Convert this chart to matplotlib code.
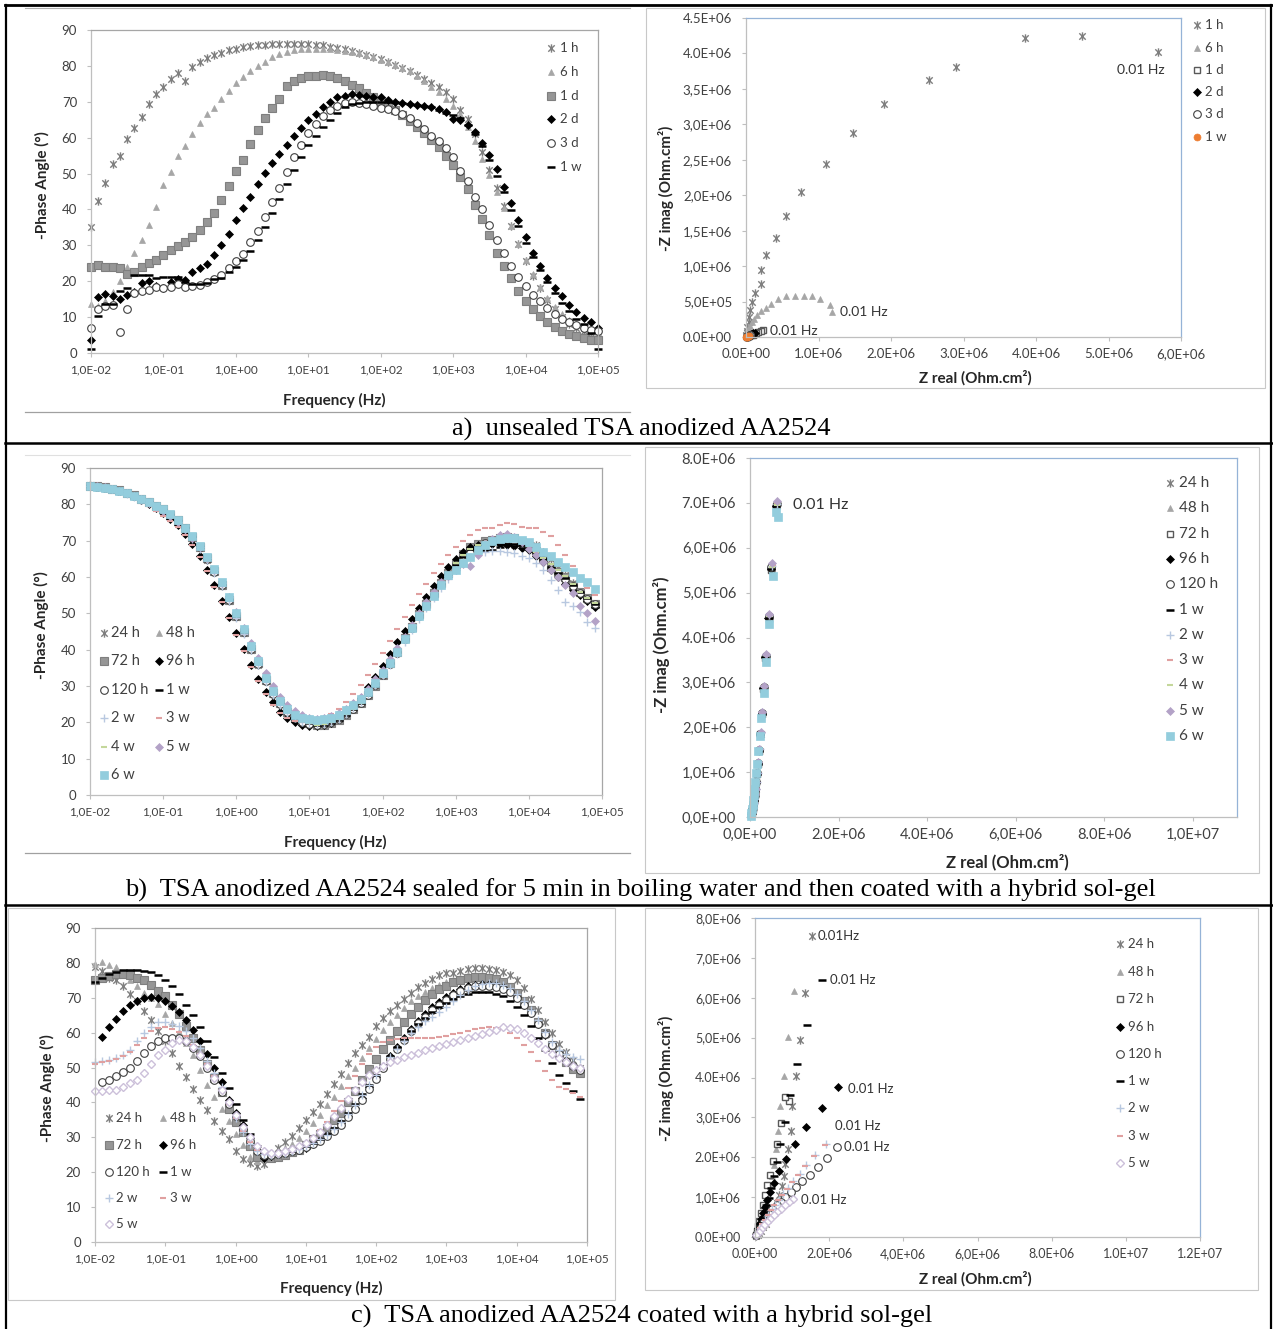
import numpy as np
import matplotlib
matplotlib.use("Agg")
import matplotlib.pyplot as plt
from matplotlib.lines import Line2D
from matplotlib.patches import Rectangle
from matplotlib.path import Path

plt.rcParams["font.family"] = ["Lato", "DejaVu Sans"]

W, H = 1273, 1329

# -------------------------------------------------
# DATA
# -------------------------------------------------
# measurement grid, 10 points per decade from 0.01 Hz
FREQ = np.logspace(-2, 5, 71)

BODE_XTICKS = [1e-2, 1e-1, 1e0, 1e1, 1e2, 1e3, 1e4, 1e5]
BODE_XLABELS = ["1,0E-02", "1,0E-01", "1,0E+00", "1,0E+01",
                "1,0E+02", "1,0E+03", "1,0E+04", "1,0E+05"]

# --- a) unsealed, phase angle (deg)
A_1H = [35.0, 42.3, 47.5, 52.7, 55.0, 59.7, 62.8, 65.7, 69.5, 72.1,
        74.1, 76.3, 77.9, 75.9, 79.7, 81.1, 82.1, 82.9, 83.7, 84.3,
        84.8, 85.2, 85.5, 85.7, 85.9, 86.0, 86.1, 86.1, 86.1, 86.1,
        86.0, 85.9, 85.7, 85.4, 85.0, 84.6, 84.2, 83.7, 83.1, 82.5,
        81.8, 81.1, 80.3, 79.4, 78.5, 77.5, 76.4, 75.3, 74.0, 72.6,
        70.8, 67.8, 65.2, 61.0, 56.0, 51.0, 46.0, 41.0, 35.5, 30.3,
        25.5, 21.5, 18.0, 14.8, 12.2, 10.0, 8.2, 7.0, 6.2, 5.6,
        5.0]
A_6H = [13.7, 13.0, 14.5, 17.0, 20.0, 24.0, 27.8, 31.5, 35.7, 40.8,
        46.8, 50.4, 55.0, 57.8, 61.0, 64.1, 66.7, 68.4, 70.8, 73.1,
        75.1, 76.9, 78.5, 80.0, 81.2, 82.4, 83.2, 83.9, 84.3, 84.6,
        84.8, 84.8, 84.8, 84.7, 84.5, 84.2, 83.9, 83.5, 83.0, 82.4,
        81.7, 81.0, 80.3, 79.4, 78.6, 77.2, 75.8, 74.2, 72.6, 70.8,
        68.7, 66.5, 63.0, 59.0, 54.0, 49.5, 45.0, 40.5, 35.4, 30.5,
        26.0, 22.0, 18.5, 15.3, 12.8, 10.8, 9.2, 8.0, 7.0, 6.4,
        5.8]
A_1D = [24.1, 24.4, 23.9, 23.9, 23.6, 22.1, 22.5, 24.1, 25.2, 26.0,
        27.4, 28.8, 29.7, 30.8, 32.3, 34.3, 36.4, 39.1, 42.7, 46.4,
        50.8, 53.8, 58.3, 62.2, 65.4, 68.2, 70.7, 74.4, 75.8, 76.6,
        77.2, 77.3, 77.4, 77.2, 76.6, 75.8, 74.8, 73.7, 72.5, 71.3,
        70.2, 69.0, 67.6, 66.2, 64.6, 63.0, 61.2, 59.4, 57.3, 55.0,
        52.5, 49.0, 45.6, 41.3, 37.4, 33.0, 28.0, 24.3, 20.8, 17.2,
        14.5, 12.2, 10.3, 8.6, 7.2, 6.1, 5.2, 4.6, 4.1, 3.7,
        3.6]
A_2D = [3.7, 15.5, 16.5, 15.8, 15.1, 16.2, 17.1, 19.4, 20.0, 18.7,
        18.0, 19.9, 20.6, 20.3, 22.7, 23.6, 24.8, 27.3, 30.1, 33.1,
        37.0, 40.3, 43.6, 47.1, 50.1, 52.9, 55.5, 57.9, 60.6, 62.8,
        64.9, 66.6, 68.6, 70.0, 71.2, 71.6, 72.2, 71.9, 71.7, 71.4,
        71.2, 70.6, 70.0, 69.7, 69.5, 69.2, 68.9, 68.6, 68.0, 67.1,
        65.3, 65.0, 63.4, 61.5, 58.4, 55.3, 51.3, 46.2, 41.8, 37.1,
        32.3, 28.0, 24.3, 21.0, 18.1, 15.8, 13.4, 11.3, 9.8, 8.5,
        7.0]
A_3D = [7.0, 12.2, 13.0, 13.5, 5.8, 12.2, 16.8, 17.3, 17.6, 18.4,
        18.0, 18.4, 19.3, 18.3, 18.8, 19.0, 19.9, 20.6, 21.8, 23.6,
        25.5, 27.6, 30.9, 34.0, 37.8, 42.0, 46.1, 50.3, 54.5, 58.0,
        61.3, 63.8, 65.9, 67.7, 68.8, 69.6, 69.8, 69.6, 69.3, 68.8,
        68.4, 68.0, 67.4, 66.5, 65.4, 64.0, 62.4, 60.6, 59.0, 57.0,
        54.5, 50.8, 47.8, 43.6, 40.1, 35.7, 31.5, 27.8, 24.3, 21.3,
        18.6, 16.2, 14.4, 12.5, 10.9, 9.6, 8.5, 7.7, 7.0, 6.5,
        6.0]
A_1W = [1.2, 10.2, 13.6, 13.6, 17.2, 18.0, 21.7, 21.7, 21.7, 20.9,
        21.2, 21.1, 21.3, 19.7, 19.2, 19.2, 19.5, 20.6, 21.0, 22.5,
        24.0, 25.8, 28.5, 31.5, 35.0, 39.0, 43.0, 47.0, 51.0, 54.5,
        58.0, 60.5, 63.0, 65.0, 67.0, 68.5, 69.3, 69.7, 69.9, 70.0,
        70.0, 70.0, 69.9, 69.7, 69.5, 69.2, 68.9, 68.5, 67.8, 67.0,
        66.3, 65.6, 63.5, 61.0, 57.8, 53.8, 49.4, 44.8, 39.9, 35.3,
        30.6, 26.7, 23.0, 19.7, 16.7, 13.9, 11.6, 9.5, 8.0, 5.6,
        1.2]

# --- a) unsealed, Nyquist (values in 1e6 Ohm.cm2)
NA_1H_X = [5.68, 4.64, 3.85, 2.89, 2.52, 1.90, 1.48, 1.10, 0.76, 0.55,
           0.41, 0.28, 0.20, 0.20, 0.12, 0.08, 0.055, 0.045, 0.035, 0.02,
           0.015, 0.01, 0.005, 0.002]
NA_1H_Y = [4.02, 4.25, 4.22, 3.81, 3.63, 3.28, 2.88, 2.44, 2.04, 1.70,
           1.40, 1.15, 0.94, 0.75, 0.62, 0.50, 0.38, 0.28, 0.21, 0.14,
           0.09, 0.055, 0.03, 0.015]
NA_6H_X = [1.18, 1.16, 1.02, 0.91, 0.80, 0.67, 0.545, 0.445, 0.35, 0.27,
           0.21, 0.155, 0.117, 0.083, 0.056, 0.033, 0.017, 0.006, 0.002]
NA_6H_Y = [0.35, 0.45, 0.53, 0.575, 0.58, 0.58, 0.58, 0.53, 0.47, 0.415,
           0.36, 0.305, 0.26, 0.21, 0.155, 0.11, 0.07, 0.035, 0.015]
NA_1D_X = [0.23, 0.20, 0.17, 0.14, 0.11, 0.09, 0.065, 0.045, 0.028, 0.015]
NA_1D_Y = [0.095, 0.085, 0.07, 0.055, 0.045, 0.035, 0.028, 0.018, 0.01, 0.005]
NA_2D_X = [0.12, 0.10, 0.085, 0.07, 0.055, 0.04, 0.03, 0.02, 0.01]
NA_2D_Y = [0.06, 0.05, 0.045, 0.038, 0.03, 0.022, 0.015, 0.01, 0.005]
NA_3D_X = [0.06, 0.05, 0.04, 0.03, 0.02, 0.01]
NA_3D_Y = [0.03, 0.025, 0.02, 0.015, 0.01, 0.005]
NA_1W_X = [0.04, 0.03, 0.02, 0.012, 0.006]
NA_1W_Y = [0.012, 0.008, 0.005, 0.003, 0.001]

# --- b) sealed + sol-gel, phase angle (deg)
B_24H = [85.2, 85.0, 84.7, 84.3, 83.8, 83.2, 82.4, 81.5, 80.6, 79.5,
         78.4, 77.0, 75.4, 73.3, 70.8, 68.0, 64.8, 61.3, 57.6, 53.5,
         49.0, 44.6, 40.0, 35.9, 31.4, 27.8, 25.0, 22.8, 21.2, 20.2,
         19.6, 19.3, 19.4, 19.9, 20.7, 22.1, 23.8, 25.4, 27.8, 30.4,
         33.3, 36.5, 39.7, 43.4, 46.6, 50.0, 53.0, 55.8, 58.6, 61.2,
         63.9, 66.3, 68.1, 69.0, 69.6, 70.1, 70.4, 70.5, 70.2, 69.5,
         69.0, 68.9, 67.0, 65.0, 62.5, 60.5, 58.3, 56.0, 54.2, 52.5]
B_48H = [85.0, 84.9, 84.6, 84.2, 83.8, 83.1, 82.4, 81.5, 80.6, 79.5,
         78.5, 77.1, 75.5, 73.4, 70.9, 68.2, 65.0, 61.5, 57.8, 53.7,
         49.2, 44.8, 40.2, 36.1, 31.5, 27.9, 25.1, 22.9, 21.3, 20.3,
         19.7, 19.4, 19.4, 19.9, 20.6, 22.0, 23.6, 25.2, 27.5, 30.1,
         33.0, 36.2, 39.4, 43.1, 46.3, 49.7, 52.7, 55.5, 58.4, 61.0,
         63.5, 65.8, 67.5, 68.5, 69.2, 69.6, 69.6, 69.3, 68.9, 68.5,
         68.0, 66.6, 64.8, 62.7, 61.0, 59.5, 57.5, 55.5, 53.7, 52.2]
B_72H = [85.1, 85.0, 84.7, 84.3, 83.9, 83.2, 82.5, 81.6, 80.7, 79.6,
         78.6, 77.2, 75.6, 73.5, 71.0, 68.3, 65.1, 61.6, 57.9, 53.8,
         49.3, 44.9, 40.3, 36.2, 31.6, 28.0, 25.2, 22.9, 21.3, 20.3,
         19.7, 19.4, 19.4, 19.9, 20.6, 22.0, 23.6, 25.2, 27.5, 30.1,
         33.0, 36.2, 39.4, 43.1, 46.3, 49.7, 52.7, 55.5, 58.4, 61.0,
         63.7, 66.2, 68.3, 69.2, 69.8, 70.3, 70.8, 71.0, 70.6, 69.7,
         68.6, 67.1, 65.1, 62.8, 61.4, 60.0, 57.7, 55.9, 54.1, 52.7]
B_96H = [85.0, 84.9, 84.6, 84.2, 83.7, 83.0, 82.2, 81.2, 80.1, 78.9,
         77.6, 76.0, 74.2, 71.8, 69.0, 65.8, 62.0, 57.8, 53.5, 49.1,
         44.6, 40.1, 35.8, 31.9, 28.4, 25.6, 22.9, 21.2, 20.0, 19.4,
         19.1, 19.0, 19.2, 19.8, 20.8, 22.5, 24.6, 26.8, 29.6, 32.5,
         35.5, 38.8, 42.2, 45.2, 48.5, 51.6, 54.6, 57.4, 60.3, 62.7,
         65.0, 66.8, 68.2, 68.7, 68.9, 69.0, 69.0, 68.8, 68.6, 68.0,
         67.3, 65.8, 64.0, 62.0, 60.0, 58.2, 56.5, 55.0, 53.5, 51.8]
B_120H = [85.1, 84.9, 84.6, 84.2, 83.8, 83.1, 82.4, 81.5, 80.6, 79.5,
          78.5, 77.1, 75.5, 73.4, 70.9, 68.2, 65.0, 61.5, 57.8, 53.7,
          49.2, 44.8, 40.2, 36.1, 31.5, 27.9, 25.1, 22.8, 21.2, 20.2,
          19.6, 19.4, 19.5, 20.0, 20.8, 22.2, 23.8, 25.4, 27.6, 30.2,
          33.0, 36.0, 39.2, 42.8, 46.0, 49.4, 52.3, 55.1, 58.0, 60.6,
          63.2, 65.3, 66.5, 68.0, 69.3, 70.0, 70.5, 70.5, 70.0, 69.3,
          68.3, 66.8, 64.8, 62.5, 61.0, 59.5, 57.5, 55.7, 54.0, 52.5]
B_1W = [85.1, 84.9, 84.6, 84.2, 83.8, 83.1, 82.4, 81.5, 80.6, 79.5,
        78.5, 77.1, 75.5, 73.4, 70.9, 68.2, 65.0, 61.5, 57.8, 53.7,
        49.2, 44.8, 40.2, 36.1, 31.5, 27.9, 25.1, 22.9, 21.3, 20.3,
        19.7, 19.4, 19.4, 19.9, 20.6, 22.0, 23.6, 25.2, 27.5, 30.1,
        33.0, 36.2, 39.4, 43.1, 46.3, 49.7, 52.7, 55.5, 58.4, 61.0,
        63.4, 65.6, 67.6, 68.8, 67.4, 67.5, 68.2, 69.0, 69.2, 68.8,
        68.0, 66.8, 65.0, 62.8, 61.2, 59.7, 57.7, 55.9, 54.1, 52.5]
B_2W = [85.0, 84.8, 84.5, 84.1, 83.6, 82.9, 82.1, 81.2, 80.3, 79.2,
        78.1, 76.7, 75.1, 73.0, 70.5, 67.8, 64.6, 61.1, 57.4, 53.3,
        48.8, 44.4, 39.8, 35.7, 31.2, 27.6, 24.9, 22.7, 21.1, 20.2,
        19.7, 19.5, 19.6, 20.2, 21.0, 22.4, 24.0, 25.6, 27.8, 30.3,
        33.0, 35.8, 38.8, 42.2, 45.3, 48.5, 51.4, 54.2, 57.0, 59.5,
        62.0, 64.0, 65.4, 66.5, 67.0, 67.2, 67.2, 67.0, 66.5, 65.9,
        65.2, 63.8, 61.8, 59.2, 56.4, 53.1, 52.1, 50.5, 47.7, 46.0]
B_3W = [84.9, 84.7, 84.3, 83.9, 83.3, 82.6, 81.7, 80.7, 79.6, 78.3,
        76.9, 75.4, 73.8, 71.5, 68.8, 65.6, 61.7, 57.3, 53.0, 48.6,
        44.0, 39.5, 35.2, 31.3, 27.8, 24.9, 22.6, 21.1, 20.3, 20.0,
        20.0, 20.4, 21.1, 22.2, 23.7, 25.6, 27.8, 30.3, 33.0, 36.0,
        39.2, 42.5, 45.8, 49.0, 52.2, 55.2, 58.2, 61.0, 63.6, 66.0,
        68.2, 70.0, 71.5, 72.8, 73.5, 73.6, 74.2, 74.9, 74.5, 73.8,
        73.5, 73.5, 72.5, 71.3, 68.7, 66.0, 63.0, 60.0, 57.0, 55.0]
B_4W = [85.1, 84.9, 84.6, 84.2, 83.8, 83.1, 82.4, 81.5, 80.6, 79.5,
        78.5, 77.1, 75.5, 73.4, 70.9, 68.2, 65.0, 61.5, 57.8, 53.7,
        49.2, 44.8, 40.2, 36.1, 31.5, 27.9, 25.1, 22.9, 21.3, 20.3,
        19.7, 19.4, 19.5, 20.0, 20.8, 22.2, 23.8, 25.4, 27.7, 30.3,
        33.2, 36.4, 39.6, 43.3, 46.5, 49.9, 52.9, 55.7, 58.6, 61.2,
        63.8, 66.0, 67.8, 68.7, 69.3, 69.8, 70.2, 70.3, 70.0, 69.3,
        68.4, 67.0, 65.3, 63.5, 61.8, 60.2, 58.0, 56.0, 54.3, 52.8]
B_5W = [85.1, 85.0, 84.7, 84.3, 83.8, 83.1, 82.4, 81.5, 80.5, 79.3,
        78.2, 76.8, 75.2, 73.2, 70.8, 68.2, 65.2, 61.9, 58.4, 54.6,
        50.4, 46.1, 41.8, 37.8, 33.6, 30.0, 27.1, 24.9, 23.2, 22.0,
        21.3, 21.0, 21.2, 21.8, 22.6, 23.8, 25.3, 27.0, 29.2, 31.8,
        34.5, 37.4, 40.4, 43.6, 46.8, 50.0, 53.0, 56.0, 58.5, 60.3,
        62.0, 63.5, 63.0, 66.0, 69.0, 70.5, 71.5, 71.9, 71.0, 69.5,
        67.8, 66.0, 64.0, 62.0, 60.0, 57.8, 55.5, 52.0, 50.0, 47.8]
B_6W = [85.0, 84.9, 84.6, 84.2, 83.8, 83.1, 82.4, 81.5, 80.6, 79.6,
        78.6, 77.3, 75.7, 73.6, 71.2, 68.6, 65.6, 62.2, 58.6, 54.5,
        50.0, 45.6, 41.0, 36.8, 32.2, 28.6, 25.8, 23.6, 22.1, 21.3,
        20.8, 20.6, 20.8, 21.3, 22.1, 23.3, 24.7, 26.3, 28.4, 30.8,
        33.5, 36.4, 39.4, 42.8, 45.9, 49.2, 52.0, 54.8, 57.8, 60.5,
        62.0, 63.8, 65.5, 67.3, 68.8, 69.8, 70.4, 70.8, 70.7, 70.3,
        69.5, 68.2, 67.0, 65.7, 64.0, 62.7, 61.4, 59.8, 58.5, 56.7]

# --- b) Nyquist (1e6 Ohm.cm2)
NB_24H_X = [0.60, 0.49, 0.43, 0.36, 0.31, 0.27, 0.24, 0.21, 0.185, 0.16, 0.14, 0.125, 0.11, 0.095, 0.08, 0.06, 0.04, 0.02]
NB_24H_Y = [6.95, 5.55, 4.45, 3.58, 2.88, 2.30, 1.85, 1.48, 1.19, 0.96, 0.77, 0.62, 0.49, 0.38, 0.28, 0.19, 0.11, 0.04]
NB_48H_X = [0.59, 0.49, 0.42, 0.36, 0.31, 0.27, 0.235, 0.205, 0.18, 0.16, 0.14, 0.12, 0.105, 0.09, 0.075, 0.06, 0.04, 0.02]
NB_48H_Y = [6.90, 5.52, 4.43, 3.57, 2.87, 2.29, 1.84, 1.47, 1.18, 0.95, 0.76, 0.61, 0.48, 0.37, 0.27, 0.18, 0.10, 0.04]
NB_72H_X = [0.59, 0.48, 0.42, 0.35, 0.30, 0.26, 0.23, 0.20, 0.18, 0.16, 0.14, 0.12, 0.105, 0.09, 0.075, 0.06, 0.04, 0.02]
NB_72H_Y = [6.92, 5.50, 4.42, 3.55, 2.86, 2.29, 1.84, 1.48, 1.19, 0.96, 0.77, 0.61, 0.48, 0.37, 0.27, 0.18, 0.10, 0.04]
NB_96H_X = [0.58, 0.47, 0.41, 0.35, 0.30, 0.26, 0.23, 0.20, 0.175, 0.155, 0.135, 0.12, 0.10, 0.09, 0.075, 0.055, 0.04, 0.02]
NB_96H_Y = [6.94, 5.52, 4.44, 3.57, 2.88, 2.30, 1.85, 1.49, 1.20, 0.96, 0.77, 0.62, 0.49, 0.38, 0.28, 0.19, 0.11, 0.04]
NB_120H_X = [0.60, 0.48, 0.42, 0.36, 0.31, 0.265, 0.235, 0.205, 0.18, 0.16, 0.14, 0.12, 0.105, 0.09, 0.075, 0.06, 0.04, 0.02]
NB_120H_Y = [6.97, 5.56, 4.47, 3.59, 2.89, 2.31, 1.86, 1.49, 1.20, 0.97, 0.78, 0.62, 0.49, 0.38, 0.28, 0.19, 0.11, 0.04]
NB_1W_X = [0.59, 0.48, 0.42, 0.35, 0.30, 0.26, 0.23, 0.20, 0.18, 0.155, 0.135, 0.12, 0.10, 0.09, 0.075, 0.055, 0.04, 0.02]
NB_1W_Y = [6.93, 5.53, 4.44, 3.56, 2.87, 2.29, 1.84, 1.48, 1.19, 0.96, 0.77, 0.61, 0.48, 0.37, 0.27, 0.18, 0.10, 0.04]
NB_2W_X = [0.61, 0.50, 0.44, 0.37, 0.32, 0.28, 0.245, 0.215, 0.19, 0.17, 0.15, 0.13, 0.115, 0.10, 0.085, 0.065, 0.045, 0.02]
NB_2W_Y = [6.98, 5.60, 4.50, 3.62, 2.91, 2.33, 1.88, 1.51, 1.22, 0.98, 0.79, 0.63, 0.50, 0.39, 0.29, 0.20, 0.11, 0.04]
NB_3W_X = [0.62, 0.51, 0.45, 0.38, 0.32, 0.28, 0.25, 0.22, 0.195, 0.175, 0.155, 0.135, 0.12, 0.105, 0.09, 0.07, 0.05, 0.025]
NB_3W_Y = [7.00, 5.62, 4.51, 3.63, 2.92, 2.34, 1.89, 1.52, 1.23, 0.99, 0.80, 0.64, 0.51, 0.40, 0.30, 0.21, 0.12, 0.05]
NB_4W_X = [0.60, 0.49, 0.43, 0.36, 0.31, 0.27, 0.24, 0.21, 0.185, 0.165, 0.145, 0.125, 0.11, 0.095, 0.08, 0.06, 0.04, 0.02]
NB_4W_Y = [6.96, 5.58, 4.48, 3.60, 2.90, 2.32, 1.87, 1.50, 1.21, 0.97, 0.78, 0.62, 0.49, 0.38, 0.28, 0.19, 0.11, 0.04]
NB_5W_X = [0.62, 0.50, 0.44, 0.37, 0.31, 0.27, 0.24, 0.21, 0.185, 0.165, 0.145, 0.13, 0.115, 0.10, 0.09, 0.075, 0.05, 0.025]
NB_5W_Y = [7.04, 5.65, 4.52, 3.64, 2.92, 2.34, 1.89, 1.52, 1.22, 0.98, 0.79, 0.63, 0.51, 0.41, 0.32, 0.22, 0.12, 0.05]
NB_6W_X = [0.63, 0.58, 0.51, 0.42, 0.355, 0.31, 0.255, 0.22, 0.18, 0.155, 0.137, 0.118, 0.10, 0.09, 0.075, 0.06, 0.045, 0.03, 0.015]
NB_6W_Y = [6.68, 6.80, 5.37, 4.31, 3.45, 2.77, 2.21, 1.80, 1.46, 1.19, 0.97, 0.78, 0.63, 0.50, 0.38, 0.27, 0.17, 0.09, 0.03]

# --- c) sol-gel only, phase angle (deg)
NAN = float("nan")
C_24H = [78.7, 77.6, 75.8, 75.2, 73.3, 71.1, 69.0, 66.1, 63.5, 60.6,
         57.5, 54.2, 50.5, 47.2, 43.9, 40.8, 37.9, 34.6, 31.7, 29.5,
         26.0, 23.9, 22.6, 21.9, 22.5, 25.0, 27.0, 28.7, 30.5, 32.7,
         35.0, 37.2, 39.6, 42.5, 45.4, 48.2, 51.3, 54.2, 56.5, 58.9,
         61.8, 64.2, 66.3, 68.0, 69.6, 71.3, 73.0, 74.2, 75.5, 76.4,
         77.1, 77.1, 77.7, 78.2, 78.5, 78.5, 78.3, 78.0, 77.4, 76.6,
         75.2, 72.8, 69.6, 66.6, 63.2, 59.9, 56.7, 54.6, 52.2, 49.9]
C_48H = [79.7, 80.2, 79.5, 78.7, 77.1, 75.2, 73.3, 71.5, 69.8, 68.2,
         65.3, 62.9, 60.2, 57.0, 53.5, 49.4, 45.1, 41.7, 38.2, 34.6,
         30.9, 27.7, 24.3, 23.1, 24.1, 25.5, 26.0, 26.9, 28.1, 29.8,
         31.7, 34.1, 36.5, 39.4, 41.7, 44.6, 47.5, 50.0, 52.7, 55.6,
         58.3, 60.8, 63.0, 65.1, 67.0, 69.0, 70.4, 71.6, 72.8, 73.7,
         74.5, 75.2, 75.8, 76.4, 76.6, 76.6, 76.3, 75.6, 74.5, 73.0,
         71.1, 68.7, 65.9, 62.7, 59.4, 56.5, 54.2, 52.2, 50.8, 49.4]
C_72H = [75.2, 75.7, 76.3, 76.7, 76.8, 76.5, 75.7, 75.0, 73.8, 72.0,
         70.6, 68.0, 65.4, 62.0, 58.5, 55.0, 51.0, 47.0, 43.0, 38.0,
         34.5, 31.5, 27.5, 24.5, 24.3, 24.1, 24.4, 25.0, 25.8, 26.5,
         27.9, 29.4, 31.0, 32.8, 34.9, 37.1, 40.0, 43.2, 46.4, 49.5,
         52.5, 55.3, 58.0, 60.6, 63.0, 65.3, 67.4, 69.3, 71.0, 72.4,
         73.5, 74.4, 75.1, 75.6, 75.9, 76.0, 75.8, 75.3, 74.4, 73.2,
         71.5, 69.2, 66.4, 63.2, 59.9, 56.6, 53.8, 51.5, 49.6, 48.3]
C_96H = [NAN, 58.9, 61.5, 64.0, 66.2, 67.8, 69.0, 69.9, 70.1, 69.8,
         69.0, 67.7, 65.9, 63.6, 60.8, 57.7, 54.0, 50.0, 46.0, 40.6,
         37.0, 33.6, 29.8, 26.0, 24.2, 24.6, 25.3, 25.5, 26.0, 26.5,
         27.0, 28.0, 29.2, 30.6, 32.2, 34.0, 36.0, 38.5, 41.3, 44.3,
         47.3, 50.3, 53.2, 56.0, 58.6, 61.0, 63.3, 65.4, 67.3, 68.9,
         70.3, 71.5, 72.5, 73.3, 73.8, 74.0, 73.9, 73.6, 73.0, 71.8,
         70.2, 68.0, 65.5, 62.6, 59.4, 56.5, 54.0, 52.0, 50.5, 49.2]
C_120H = [NAN, 46.0, 46.5, 47.5, 48.6, 50.0, 52.0, 54.3, 56.1, 57.5,
          58.5, 58.6, 58.6, 57.5, 55.6, 53.2, 49.9, 46.5, 43.0, 39.5,
          36.0, 32.5, 29.0, 26.0, 25.0, 25.0, 25.3, 25.6, 26.0, 26.5,
          27.2, 28.0, 29.0, 30.3, 31.8, 33.6, 35.8, 38.0, 40.8, 43.8,
          46.8, 49.9, 52.5, 55.3, 58.0, 60.5, 62.7, 64.6, 66.4, 68.0,
          69.5, 70.7, 71.8, 72.7, 73.3, 73.5, 73.5, 73.2, 72.6, 71.6,
          70.0, 68.0, 65.5, 62.6, 59.5, 56.5, 54.0, 52.0, 50.5, 49.3]
C_1W = [74.5, 75.8, 76.8, 77.5, 77.9, 78.0, 78.0, 77.8, 77.3, 76.4,
        75.0, 73.3, 71.2, 68.0, 65.0, 61.5, 57.5, 53.0, 48.5, 44.0,
        39.5, 35.0, 31.0, 27.5, 25.8, 25.5, 25.5, 25.8, 26.2, 26.8,
        27.6, 28.5, 29.6, 31.0, 32.7, 34.7, 37.0, 39.6, 42.3, 45.0,
        47.8, 50.6, 53.3, 55.8, 58.2, 60.4, 62.4, 64.2, 65.9, 67.4,
        68.6, 69.7, 70.6, 71.2, 71.6, 71.7, 71.6, 71.2, 70.4, 69.2,
        67.5, 65.0, 62.0, 58.6, 55.0, 51.3, 48.0, 45.6, 43.3, 41.0]
C_2W = [51.5, 52.0, 52.2, 52.8, 53.5, 55.0, 57.5, 60.0, 61.5, 63.0,
        63.2, 62.5, 62.0, 60.5, 58.5, 55.5, 52.0, 48.5, 44.5, 40.0,
        35.5, 31.5, 28.0, 26.0, 25.2, 25.0, 25.2, 25.6, 26.1, 26.7,
        27.4, 28.3, 29.4, 30.8, 32.5, 34.5, 36.8, 39.4, 42.2, 45.0,
        47.8, 50.5, 53.0, 55.4, 57.7, 59.8, 61.7, 63.4, 64.6, 65.8,
        67.5, 69.2, 70.8, 72.2, 73.3, 74.0, 74.3, 74.2, 73.8, 72.8,
        71.2, 69.0, 66.5, 63.5, 60.2, 57.2, 55.0, 53.8, 53.0, 52.5]
C_3W = [51.0, 51.6, 52.0, 52.5, 53.2, 54.5, 56.5, 58.5, 60.5, 61.3,
        61.5, 61.0, 60.2, 59.0, 56.5, 54.0, 51.0, 47.5, 43.5, 39.5,
        35.5, 31.8, 28.6, 26.5, 25.8, 25.5, 25.6, 26.0, 26.6, 27.4,
        28.5, 30.0, 32.0, 34.5, 37.5, 40.5, 44.0, 47.5, 51.0, 54.0,
        56.0, 57.3, 58.0, 58.3, 58.5, 58.5, 58.4, 58.5, 58.6, 58.8,
        59.0, 59.5, 60.0, 60.6, 61.0, 61.4, 61.5, 61.4, 61.0, 60.0,
        58.4, 56.5, 54.6, 52.0, 49.0, 46.5, 44.5, 43.8, 42.8, 41.7]
C_5W = [43.3, 43.4, 43.5, 43.7, 44.5, 45.5, 46.5, 48.5, 51.0, 53.5,
        55.0, 57.0, 58.0, 57.5, 56.0, 53.5, 50.5, 47.0, 43.5, 40.0,
        36.5, 33.0, 30.0, 27.5, 26.0, 25.5, 25.6, 26.0, 26.6, 27.5,
        28.5, 29.8, 31.5, 33.5, 36.0, 38.5, 41.0, 43.5, 45.8, 47.8,
        49.3, 50.5, 51.5, 52.3, 53.0, 53.7, 54.3, 54.9, 55.6, 56.2,
        56.8, 57.4, 58.0, 58.5, 59.0, 59.6, 60.3, 60.9, 61.5, 61.4,
        61.0, 60.0, 58.6, 57.0, 55.4, 54.0, 52.7, 51.5, 50.5, 49.8]

# --- c) Nyquist (1e6 Ohm.cm2)
NC_24H_X = [1.55, 1.36, 1.22, 1.10, 1.01, 0.98, 0.90, 0.82, 0.77, 0.72, 0.65, 0.58, 0.50, 0.43, 0.36, 0.29, 0.22, 0.16, 0.11, 0.07, 0.03]
NC_24H_Y = [7.54, 6.12, 4.95, 4.03, 3.28, 2.67, 2.21, 1.84, 1.52, 1.27, 1.05, 0.86, 0.70, 0.56, 0.44, 0.33, 0.24, 0.16, 0.10, 0.05, 0.02]
NC_48H_X = [1.06, 0.89, 0.78, 0.68, 0.61, 0.57, 0.51, 0.46, 0.40, 0.36, 0.31, 0.26, 0.22, 0.17, 0.13, 0.10, 0.065, 0.03]
NC_48H_Y = [6.18, 5.01, 4.03, 3.28, 2.65, 2.21, 1.81, 1.52, 1.30, 1.08, 0.89, 0.73, 0.58, 0.43, 0.31, 0.21, 0.13, 0.06]
NC_72H_X = [0.93, 0.80, 0.71, 0.60, 0.49, 0.40, 0.33, 0.27, 0.22, 0.16, 0.12, 0.08, 0.045, 0.02]
NC_72H_Y = [3.40, 3.52, 2.86, 2.32, 1.90, 1.56, 1.31, 1.06, 0.81, 0.60, 0.41, 0.27, 0.14, 0.06]
NC_96H_X = [2.25, 1.80, 1.38, 1.08, 0.84, 0.65, 0.52, 0.41, 0.33, 0.26, 0.21, 0.16, 0.12, 0.09, 0.055, 0.02]
NC_96H_Y = [3.75, 3.24, 2.75, 2.34, 1.96, 1.65, 1.35, 1.13, 0.93, 0.75, 0.60, 0.46, 0.33, 0.23, 0.13, 0.06]
NC_120H_X = [2.21, 1.93, 1.69, 1.47, 1.27, 1.11, 0.96, 0.82, 0.69, 0.58, 0.47, 0.38, 0.29, 0.22, 0.15, 0.09, 0.04]
NC_120H_Y = [2.26, 1.98, 1.76, 1.55, 1.40, 1.25, 1.13, 1.00, 0.89, 0.79, 0.69, 0.58, 0.46, 0.35, 0.24, 0.14, 0.06]
NC_1W_X = [1.80, 1.39, 1.14, 0.95, 0.80, 0.68, 0.58, 0.50, 0.43, 0.37, 0.31, 0.26, 0.21, 0.16, 0.12, 0.08, 0.04]
NC_1W_Y = [6.44, 5.31, 4.35, 3.55, 2.88, 2.33, 1.88, 1.52, 1.23, 0.99, 0.79, 0.62, 0.47, 0.34, 0.23, 0.14, 0.06]
NC_2W_X = [1.91, 1.61, 1.38, 1.20, 1.03, 0.89, 0.76, 0.64, 0.54, 0.45, 0.36, 0.28, 0.21, 0.14, 0.09, 0.04]
NC_2W_Y = [2.34, 2.05, 1.80, 1.58, 1.40, 1.23, 1.08, 0.94, 0.81, 0.69, 0.56, 0.43, 0.33, 0.23, 0.14, 0.06]
NC_3W_X = [1.90, 1.60, 1.36, 1.17, 1.00, 0.86, 0.73, 0.61, 0.51, 0.42, 0.34, 0.26, 0.19, 0.13, 0.08, 0.035]
NC_3W_Y = [2.31, 2.02, 1.78, 1.56, 1.38, 1.21, 1.06, 0.92, 0.79, 0.67, 0.55, 0.42, 0.32, 0.22, 0.13, 0.05]
NC_5W_X = [1.03, 0.93, 0.82, 0.71, 0.60, 0.50, 0.40, 0.32, 0.24, 0.16, 0.10, 0.04]
NC_5W_Y = [0.96, 0.87, 0.79, 0.71, 0.63, 0.54, 0.46, 0.38, 0.29, 0.21, 0.13, 0.06]


# -------------------------------------------------
# MARKER STYLES (Excel look-alikes)
# -------------------------------------------------
STAR = Path([(-1, -1), (1, 1), (-1, 1), (1, -1), (0, -1.3), (0, 1.3)],
            [Path.MOVETO, Path.LINETO] * 3)

STYLES = {
    "star": dict(marker=STAR, ms=6, mfc="none", mec="#7f7f7f", mew=1.0),
    "tri": dict(marker="^", ms=5, mfc="#a6a6a6", mec="#a6a6a6", mew=0.5),
    "sqf": dict(marker="s", ms=5.5, mfc="#969696", mec="#7f7f7f", mew=0.8),
    "sqo": dict(marker="s", ms=5, mfc="white", mec="#595959", mew=1.0),
    "dia": dict(marker="D", ms=4.3, mfc="black", mec="black", mew=0.5),
    "cir": dict(marker="o", ms=5.5, mfc="white", mec="#404040", mew=0.8),
    "dash": dict(marker="_", ms=5.5, mec="black", mew=1.8),
    "plus": dict(marker="+", ms=6, mec="#b8c8e0", mew=1.0),
    "pink": dict(marker="_", ms=4, mec="#e0a0a0", mew=1.5),
    "olive": dict(marker="_", ms=5, mec="#c4d79b", mew=1.5),
    "lav": dict(marker="D", ms=4.3, mfc="#b3a2c7", mec="#b3a2c7", mew=0.5),
    "lavo": dict(marker="D", ms=4.3, mfc="white", mec="#ccc0da", mew=1.0),
    "sky": dict(marker="s", ms=5.5, mfc="#93cddd", mec="#93cddd", mew=0.5),
    "orange": dict(marker="o", ms=5, mfc="#ed7d31", mec="#ed7d31", mew=0.5),
}

AXIS_GRAY = "#bfbfbf"
TEXT_GRAY = "#404040"


# -------------------------------------------------
# HELPERS (pixel layout -> figure coords)
# -------------------------------------------------
def fx(px):
    return px / W


def fy(py):
    return 1 - py / H


def add_axes_px(fig, x0, y0, x1, y1):
    return fig.add_axes([x0 / W, 1 - y1 / H, (x1 - x0) / W, (y1 - y0) / H])


def line_px(fig, xs, ys, color, lw):
    fig.add_artist(Line2D([fx(v) for v in xs], [fy(v) for v in ys],
                          transform=fig.transFigure, color=color, lw=lw))


def box_px(fig, x0, y0, x1, y1, color, lw=0.8):
    fig.add_artist(Rectangle((fx(x0), fy(y1)), (x1 - x0) / W, (y1 - y0) / H,
                             transform=fig.transFigure, fill=False,
                             edgecolor=color, lw=lw))


def style_axes(ax, frame_color, xsize, ysize):
    for s in ["left", "bottom"]:
        ax.spines[s].set_color(AXIS_GRAY)
        ax.spines[s].set_linewidth(0.9)
    for s in ["top", "right"]:
        ax.spines[s].set_color(frame_color)
        ax.spines[s].set_linewidth(0.9)
    ax.tick_params(direction="out", length=3, width=0.8, color=AXIS_GRAY,
                   labelcolor=TEXT_GRAY)
    ax.tick_params(axis="x", labelsize=xsize, pad=5)
    ax.tick_params(axis="y", labelsize=ysize, pad=7)
    ax.tick_params(which="minor", length=0)
    ax.set_facecolor("white")


def bode_axes(fig, box, series):
    ax = add_axes_px(fig, *box)
    for vals, st in series:
        y = np.array(vals, dtype=float)
        ax.plot(FREQ[:len(y)], y, ls="none", clip_on=False, **STYLES[st])
    ax.set_xscale("log")
    ax.set_xlim(1e-2, 1e5)
    ax.set_ylim(0, 90)
    ax.set_xticks(BODE_XTICKS)
    ax.set_xticklabels(BODE_XLABELS)
    ax.set_yticks(range(0, 91, 10))
    style_axes(ax, "#a6a6a6", 8.5, 9.5)
    return ax


def nyquist_axes(fig, box, series, xlim, xticks, xlabels, ylim, yticks, ylabels,
                 notes, tsize, nsize):
    ax = add_axes_px(fig, *box)
    for xs, ys, st in series:
        n = min(len(xs), len(ys))
        ax.plot(np.array(xs[:n]) * 1e6, np.array(ys[:n]) * 1e6, ls="none",
                clip_on=False, **STYLES[st])
    ax.set_xlim(*xlim)
    ax.set_ylim(*ylim)
    ax.set_xticks(xticks)
    ax.set_xticklabels(xlabels)
    ax.set_yticks(yticks)
    ax.set_yticklabels(ylabels)
    for txt, x, y in notes:
        ax.text(x * 1e6, y * 1e6, txt, ha="left", va="center",
                fontsize=nsize, color="#333333")
    style_axes(ax, "#95b3d7", tsize, tsize)
    return ax


def legend_px(fig, entries, fs):
    for label, st, xm, xt, y in entries:
        fig.add_artist(Line2D([fx(xm)], [fy(y)], transform=fig.transFigure,
                              ls="none", **STYLES[st]))
        fig.text(fx(xt), fy(y), label, ha="left", va="center",
                 fontsize=fs, color=TEXT_GRAY)


def label_px(fig, x, y, txt, rot=0, fs=11):
    fig.text(fx(x), fy(y), txt, ha="center", va="center", rotation=rot,
             fontsize=fs, fontweight="bold", color="#262626")


# -------------------------------------------------
# FIGURE
# -------------------------------------------------
fig = plt.figure(figsize=(W / 100, H / 100), dpi=100)

# table frame and panel boxes
line_px(fig, [5, 1273], [5, 5], "black", 2.0)
line_px(fig, [6, 6], [5, 1329], "black", 1.6)
line_px(fig, [1271, 1271], [5, 1329], "black", 1.6)
line_px(fig, [5, 1273], [443, 443], "black", 1.8)
line_px(fig, [5, 1273], [905, 905], "black", 1.8)

line_px(fig, [25, 630], [8, 8], "#b0b0b0", 0.8)
line_px(fig, [25, 630], [412, 412], "#a0a0a0", 0.9)
box_px(fig, 646, 8, 1265, 388, "#c8c8c8")
line_px(fig, [25, 630], [455, 455], "#e0e0e0", 0.8)
line_px(fig, [25, 630], [853, 853], "#a0a0a0", 0.9)
box_px(fig, 645, 447, 1259, 873, "#c8c8c8")
box_px(fig, 8, 908, 615, 1300, "#c8c8c8")
box_px(fig, 645, 908, 1258, 1290, "#c8c8c8")

# ---------------- row a ----------------
bode_axes(fig, (91, 30, 598, 353), [
    (A_1H, "star"), (A_6H, "tri"), (A_1D, "sqf"),
    (A_2D, "dia"), (A_3D, "cir"), (A_1W, "dash")])
label_px(fig, 334, 400, "Frequency (Hz)")
label_px(fig, 42, 185, "-Phase Angle (°)", rot=90)
legend_px(fig, [
    ("1 h", "star", 551, 560, 48), ("6 h", "tri", 551, 560, 72),
    ("1 d", "sqf", 551, 560, 96), ("2 d", "dia", 551, 560, 119),
    ("3 d", "cir", 551, 560, 143), ("1 w", "dash", 551, 560, 167)], 9.5)

nyquist_axes(
    fig, (746, 18, 1181, 337),
    [(NA_1H_X, NA_1H_Y, "star"), (NA_6H_X, NA_6H_Y, "tri"),
     (NA_1D_X, NA_1D_Y, "sqo"), (NA_2D_X, NA_2D_Y, "dia"),
     (NA_3D_X, NA_3D_Y, "cir"), (NA_1W_X, NA_1W_Y, "orange")],
    (0, 6e6), np.arange(0, 6.01e6, 1e6),
    ["0.0E+00", "1.0E+06", "2.0E+06", "3.0E+06", "4.0E+06", "5.0E+06", "6,0E+06"],
    (0, 4.5e6), np.arange(0, 4.51e6, 0.5e6),
    ["0.0E+00", "5,0E+05", "1,0E+06", "1,5E+06", "2,0E+06", "2,5E+06",
     "3,0E+06", "3,5E+06", "4.0E+06", "4.5E+06"],
    [("0.01 Hz", 5.12, 3.77), ("0.01 Hz", 1.30, 0.353), ("0.01 Hz", 0.33, 0.085)],
    9.5, 10)
label_px(fig, 975, 378, "Z real (Ohm.cm²)")
label_px(fig, 666, 188, "-Z imag (Ohm.cm²)", rot=90)
legend_px(fig, [
    ("1 h", "star", 1197, 1205, 25), ("6 h", "tri", 1197, 1205, 48),
    ("1 d", "sqo", 1197, 1205, 70), ("2 d", "dia", 1197, 1205, 92),
    ("3 d", "cir", 1197, 1205, 114), ("1 w", "orange", 1197, 1205, 137)], 9.5)

fig.text(fx(641), fy(429), "a)  unsealed TSA anodized AA2524", ha="center",
         va="center", fontsize=19, family="Liberation Serif")

# ---------------- row b ----------------
bode_axes(fig, (90, 468, 602, 795), [
    (B_24H, "star"), (B_48H, "tri"), (B_72H, "sqf"), (B_96H, "dia"),
    (B_120H, "cir"), (B_1W, "dash"), (B_2W, "plus"), (B_3W, "pink"),
    (B_4W, "olive"), (B_5W, "lav"), (B_6W, "sky")])
label_px(fig, 335, 842, "Frequency (Hz)")
label_px(fig, 41, 625, "-Phase Angle (°)", rot=90)
legend_px(fig, [
    ("24 h", "star", 104, 111, 633), ("48 h", "tri", 159, 166, 633),
    ("72 h", "sqf", 104, 111, 661), ("96 h", "dia", 159, 166, 661),
    ("120 h", "cir", 104, 111, 690), ("1 w", "dash", 159, 166, 690),
    ("2 w", "plus", 104, 111, 718), ("3 w", "pink", 159, 166, 718),
    ("4 w", "olive", 104, 111, 747), ("5 w", "lav", 159, 166, 747),
    ("6 w", "sky", 104, 111, 775)], 10.5)

nyquist_axes(
    fig, (750, 458, 1237, 817),
    [(NB_24H_X, NB_24H_Y, "star"), (NB_48H_X, NB_48H_Y, "tri"),
     (NB_72H_X, NB_72H_Y, "sqo"), (NB_96H_X, NB_96H_Y, "dia"),
     (NB_120H_X, NB_120H_Y, "cir"), (NB_1W_X, NB_1W_Y, "dash"),
     (NB_2W_X, NB_2W_Y, "plus"), (NB_3W_X, NB_3W_Y, "pink"),
     (NB_4W_X, NB_4W_Y, "olive"), (NB_5W_X, NB_5W_Y, "lav"),
     (NB_6W_X, NB_6W_Y, "sky")],
    (0, 1.1e7), np.arange(0, 1.01e7, 2e6),
    ["0,0E+00", "2.0E+06", "4.0E+06", "6,0E+06", "8.0E+06", "1,0E+07"],
    (0, 8e6), np.arange(0, 8.01e6, 1e6),
    ["0,0E+00", "1,0E+06", "2,0E+06", "3,0E+06", "4.0E+06", "5,0E+06",
     "6,0E+06", "7.0E+06", "8.0E+06"],
    [("0.01 Hz", 0.98, 6.96)], 10.5, 11.5)
label_px(fig, 1007, 862, "Z real (Ohm.cm²)", fs=12)
label_px(fig, 662, 645, "-Z imag (Ohm.cm²)", rot=90, fs=12)
legend_px(fig, [
    ("24 h", "star", 1170, 1179, 483), ("48 h", "tri", 1170, 1179, 508),
    ("72 h", "sqo", 1170, 1179, 534), ("96 h", "dia", 1170, 1179, 559),
    ("120 h", "cir", 1170, 1179, 584), ("1 w", "dash", 1170, 1179, 610),
    ("2 w", "plus", 1170, 1179, 635), ("3 w", "pink", 1170, 1179, 660),
    ("4 w", "olive", 1170, 1179, 685), ("5 w", "lav", 1170, 1179, 711),
    ("6 w", "sky", 1170, 1179, 736)], 11)

fig.text(fx(640), fy(890),
         "b)  TSA anodized AA2524 sealed for 5 min in boiling water and then coated with a hybrid sol-gel",
         ha="center", va="center", fontsize=19, family="Liberation Serif")

# ---------------- row c ----------------
bode_axes(fig, (95, 928, 587, 1242), [
    (C_24H, "star"), (C_48H, "tri"), (C_72H, "sqf"), (C_96H, "dia"),
    (C_120H, "cir"), (C_1W, "dash"), (C_2W, "plus"), (C_3W, "pink"),
    (C_5W, "lavo")])
label_px(fig, 331, 1288, "Frequency (Hz)")
label_px(fig, 47, 1088, "-Phase Angle (°)", rot=90)
legend_px(fig, [
    ("24 h", "star", 109, 116, 1118), ("48 h", "tri", 163, 170, 1118),
    ("72 h", "sqf", 109, 116, 1145), ("96 h", "dia", 163, 170, 1145),
    ("120 h", "cir", 109, 116, 1172), ("1 w", "dash", 163, 170, 1172),
    ("2 w", "plus", 109, 116, 1198), ("3 w", "pink", 163, 170, 1198),
    ("5 w", "lavo", 109, 116, 1224)], 9.5)

nyquist_axes(
    fig, (755, 918, 1200, 1237),
    [(NC_24H_X, NC_24H_Y, "star"), (NC_48H_X, NC_48H_Y, "tri"),
     (NC_72H_X, NC_72H_Y, "sqo"), (NC_96H_X, NC_96H_Y, "dia"),
     (NC_120H_X, NC_120H_Y, "cir"), (NC_1W_X, NC_1W_Y, "dash"),
     (NC_2W_X, NC_2W_Y, "plus"), (NC_3W_X, NC_3W_Y, "pink"),
     (NC_5W_X, NC_5W_Y, "lavo")],
    (0, 1.2e7), np.arange(0, 1.21e7, 2e6),
    ["0.0E+00", "2.0E+06", "4,0E+06", "6,0E+06", "8.0E+06", "1.0E+07", "1.2E+07"],
    (0, 8e6), np.arange(0, 8.01e6, 1e6),
    ["0.0E+00", "1,0E+06", "2.0E+06", "3,0E+06", "4.0E+06", "5,0E+06",
     "6,0E+06", "7,0E+06", "8,0E+06"],
    [("0.01Hz", 1.69, 7.54), ("0.01 Hz", 2.02, 6.44), ("0.01 Hz", 2.51, 3.71),
     ("0.01 Hz", 2.16, 2.78), ("0.01 Hz", 2.40, 2.26), ("0.01 Hz", 1.25, 0.94)],
    9, 9.5)
label_px(fig, 975, 1279, "Z real (Ohm.cm²)")
label_px(fig, 666, 1078, "-Z imag (Ohm.cm²)", rot=90)
legend_px(fig, [
    ("24 h", "star", 1120, 1128, 944), ("48 h", "tri", 1120, 1128, 972),
    ("72 h", "sqo", 1120, 1128, 999), ("96 h", "dia", 1120, 1128, 1027),
    ("120 h", "cir", 1120, 1128, 1054), ("1 w", "dash", 1120, 1128, 1081),
    ("2 w", "plus", 1120, 1128, 1108), ("3 w", "pink", 1120, 1128, 1136),
    ("5 w", "lavo", 1120, 1128, 1163)], 9.5)

fig.text(fx(642), fy(1316), "c)  TSA anodized AA2524 coated with a hybrid sol-gel",
         ha="center", va="center", fontsize=19, family="Liberation Serif")

fig.savefig("out.png", dpi=100)
